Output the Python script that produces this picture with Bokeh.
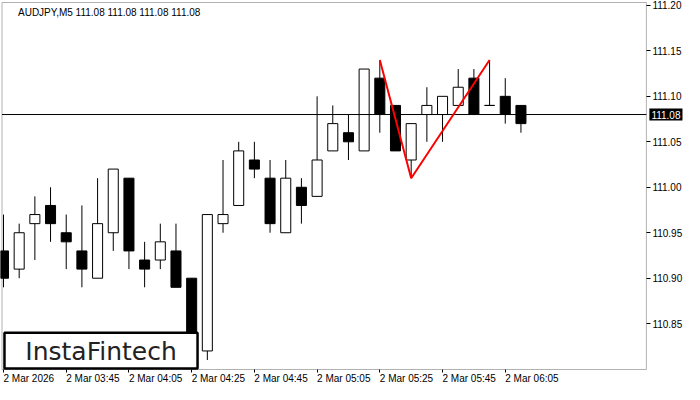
from bokeh.plotting import figure
from bokeh.models import (Range1d, FixedTicker, Label, BoxAnnotation,
                          ColumnDataSource, PrintfTickFormatter, LinearAxis)
from bokeh.embed import file_html
from bokeh.resources import INLINE

# ---------------- data ----------------
symbol_title = "AUDJPY,M5  111.08 111.08 111.08 111.08"
bid_price = 111.08

opens  = [110.93, 110.91, 110.96, 110.98, 110.95, 110.93, 110.90, 110.95, 111.01, 110.92,
          110.92, 110.93, 110.90, 110.82, 110.96, 110.98, 111.03, 111.01, 110.95, 111.00,
          110.99, 111.04, 111.06, 111.04, 111.12, 111.09, 111.03, 111.08, 111.08, 111.09,
          111.12, 111.09, 111.10, 111.09]
highs  = [110.97, 110.96, 110.99, 111.00, 110.97, 110.98, 111.01, 111.02, 111.01, 110.94,
          110.96, 110.96, 110.90, 110.97, 111.03, 111.05, 111.05, 111.03, 111.03, 111.01,
          111.10, 111.09, 111.08, 111.13, 111.14, 111.09, 111.07, 111.11, 111.10, 111.13,
          111.13, 111.14, 111.12, 111.09]
lows   = [110.89, 110.90, 110.92, 110.94, 110.91, 110.89, 110.90, 110.93, 110.91, 110.89,
          110.91, 110.89, 110.81, 110.81, 110.95, 110.98, 111.01, 110.95, 110.95, 110.96,
          110.99, 111.04, 111.03, 111.04, 111.06, 111.04, 111.01, 111.05, 111.05, 111.09,
          111.08, 111.09, 111.07, 111.06]
closes = [110.90, 110.95, 110.97, 110.96, 110.94, 110.91, 110.96, 111.02, 110.93, 110.91,
          110.94, 110.89, 110.82, 110.97, 110.97, 111.04, 111.02, 110.96, 111.01, 110.98,
          111.03, 111.07, 111.05, 111.13, 111.08, 111.04, 111.07, 111.09, 111.10, 111.11,
          111.08, 111.09, 111.08, 111.07]

tick_bars = [0, 4, 8, 12, 16, 20, 24, 28, 32]
tick_labels = ["2 Mar 2026", "2 Mar 03:45", "2 Mar 04:05", "2 Mar 04:25", "2 Mar 04:45",
               "2 Mar 05:05", "2 Mar 05:25", "2 Mar 05:45", "2 Mar 06:05"]
price_ticks = [110.85, 110.90, 110.95, 111.00, 111.05, 111.10, 111.15, 111.20]

pattern_bars = [24, 26, 31]
pattern_prices = [111.14, 111.01, 111.14]

# ---------------- geometry ----------------
FONT = "Liberation Sans"
W, H = 684, 384
bar_px = 15.68                      # px per bar
bar0_px = 3.0                       # px of bar 0 centre
chart_left = -1.5 / bar_px          # chart box edges in bar units
chart_right = 41.0
x_start = -bar0_px / bar_px
x_end = (W - bar0_px) / bar_px

box_lo, box_hi = 110.7996, 111.2032  # chart box price extent
box_top_px, box_bot_px = 2.0, 369.0
ppu = (box_bot_px - box_top_px) / (box_hi - box_lo)
y_end = box_hi + box_top_px / ppu
y_start = box_lo - (H - box_bot_px) / ppu

p = figure(width=W, height=H, x_range=Range1d(x_start, x_end), y_range=Range1d(y_start, y_end),
           output_backend="svg", toolbar_location=None,
           x_axis_location=None, y_axis_location=None,
           min_border_left=0, min_border_top=0, min_border_right=0, min_border_bottom=0)
p.grid.visible = False
p.outline_line_color = None
p.background_fill_color = "white"
p.border_fill_color = "white"

# price axis pinned to the chart box's right edge
ya = LinearAxis(fixed_location=chart_right)
ya.ticker = FixedTicker(ticks=price_ticks)
ya.formatter = PrintfTickFormatter(format="%.2f")
ya.major_tick_out = 4
ya.major_tick_in = 0
ya.minor_tick_out = 0
ya.minor_tick_in = 0
ya.axis_line_color = None
ya.major_label_text_font = FONT
ya.major_label_text_font_size = "10px"
ya.major_label_text_color = "black"
ya.major_label_standoff = 2
p.add_layout(ya, "right")

# time axis pinned to the chart box's bottom edge
xa = LinearAxis(fixed_location=box_lo)
xa.ticker = FixedTicker(ticks=tick_bars)
xa.major_label_overrides = {b: t for b, t in zip(tick_bars, tick_labels)}
xa.major_label_orientation = -0.0001     # left-aligned labels, as in the terminal
xa.major_tick_out = 3
xa.major_tick_in = 0
xa.minor_tick_out = 0
xa.minor_tick_in = 0
xa.axis_line_color = None
xa.major_tick_line_color = "black"
xa.major_label_text_font = FONT
xa.major_label_text_font_size = "10px"
xa.major_label_text_color = "black"
xa.major_label_standoff = 6
p.add_layout(xa, "below")

# chart box border
p.add_layout(BoxAnnotation(left=chart_left, right=chart_right, top=box_hi, bottom=box_lo,
                           fill_alpha=0, line_color="black", line_width=1, level="underlay"))

# ---------------- candles ----------------
xs = list(range(len(opens)))
src = ColumnDataSource(dict(
    x=xs, high=highs, low=lows,
    top=[max(o, c) for o, c in zip(opens, closes)],
    bottom=[min(o, c) for o, c in zip(opens, closes)],
    fill=["white" if c >= o else "black" for o, c in zip(opens, closes)],
))
p.segment(x0="x", y0="low", x1="x", y1="high", source=src, line_color="black", line_width=1)
p.vbar(x="x", width=0.64, top="top", bottom="bottom", source=src,
       fill_color="fill", line_color="black", line_width=1)

# current price line (stops at the chart box edge)
p.segment(x0=[chart_left], y0=[bid_price], x1=[chart_right], y1=[bid_price],
          line_color="black", line_width=1)

# pattern line
p.line(pattern_bars, pattern_prices, line_color="#ff0000", line_width=2)

# title
p.add_layout(Label(x=chart_left, y=box_hi, x_offset=16, y_offset=-4, text=symbol_title,
                   text_font=FONT, text_font_size="10px", text_color="black",
                   text_baseline="top", text_align="left"))

# price tag
p.add_layout(Label(x=chart_right, y=bid_price, x_offset=3, text=f"{bid_price:.2f}",
                   text_font=FONT, text_font_size="10px", text_color="white",
                   text_baseline="middle", text_align="left",
                   background_fill_color="black", background_fill_alpha=1.0, padding=2))

# logo
logo_left, logo_right = 0.0625, 12.375
logo_top, logo_bottom = 110.8400, 110.8008
p.add_layout(BoxAnnotation(left=logo_left, right=logo_right, top=logo_top, bottom=logo_bottom,
                           fill_color="white", fill_alpha=1.0,
                           line_color="black", line_width=2.5, line_alpha=1.0))
p.add_layout(Label(x=(logo_left + logo_right) / 2, y=(logo_top + logo_bottom) / 2, y_offset=-1,
                   text="InstaFintech", text_font="DejaVu Sans", text_font_size="25px",
                   text_color="#222222", text_align="center", text_baseline="middle"))

open("out.html", "w").write(file_html(p, INLINE))
